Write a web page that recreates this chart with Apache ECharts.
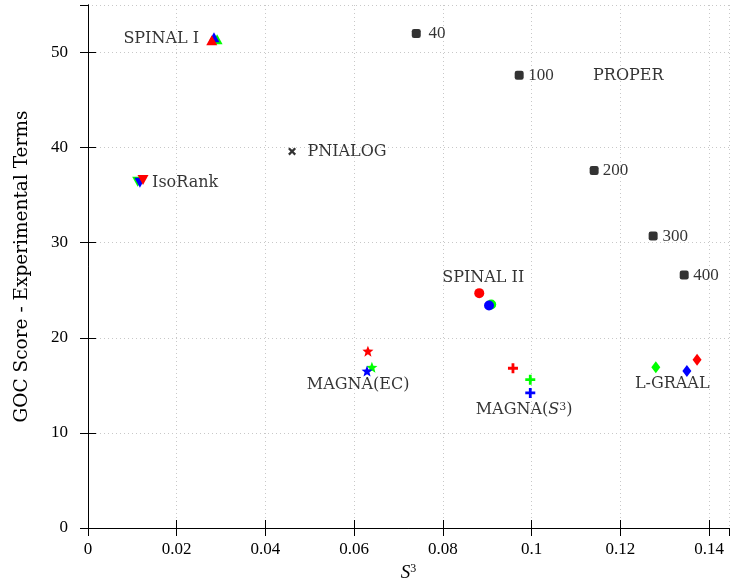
<!DOCTYPE html>
<html><head><meta charset="utf-8">
<script src="https://cdn.jsdelivr.net/npm/echarts@6/dist/echarts.min.js"></script>
<style>html,body{margin:0;padding:0;background:#fff}#c{width:731px;height:582px}</style>
</head><body><div id="c"></div>
<script>
// ---- data (x = S^3, y = GOC score), order: red, green, blue ----
const colors = ['#ff0000', '#00ff00', '#0000ff'];
const spinal1_x = [0.0279, 0.0291, 0.0284];
const spinal1_y = [51.3, 51.4, 51.6];
const isorank_x = [0.0124, 0.0112, 0.0117];
const isorank_y = [36.6, 36.4, 36.3];
const spinal2_x = [0.0882, 0.0909, 0.0904];
const spinal2_y = [24.7, 23.5, 23.4];
const magnaEC_x = [0.0631, 0.0640, 0.0629];
const magnaEC_y = [18.6, 16.9, 16.5];
const magnaS3_x = [0.0958, 0.0997, 0.0997];
const magnaS3_y = [16.8, 15.6, 14.2];
const lgraal_x = [0.1373, 0.1280, 0.1350];
const lgraal_y = [17.7, 16.9, 16.5];
const pnialog_x = [0.0460];
const pnialog_y = [39.6];
const proper_params = ['40', '100', '200', '300', '400'];
const proper_x = [0.0740, 0.0972, 0.1141, 0.1274, 0.1344];
const proper_y = [52.0, 47.6, 37.6, 30.7, 26.6];
// text annotations [x, y, text]
const label_text = ['SPINAL I', 'IsoRank', 'PNIALOG', 'PROPER', 'SPINAL II', 'MAGNA(EC)', 'MAGNA_S3', 'L-GRAAL'];
const label_x = [0.0165, 0.0219, 0.0584, 0.1218, 0.0891, 0.0609, 0.0983, 0.1317];
const label_y = [51.4, 36.3, 39.6, 47.5, 26.3, 15.05, 12.4, 15.2];
const param_label_x = [0.0787, 0.1021, 0.1189, 0.1324, 0.1393];
const param_label_y = [52.0, 47.6, 37.6, 30.6, 26.6];
const xTicks = [0, 0.02, 0.04, 0.06, 0.08, 0.1, 0.12, 0.14];
const yTicks = [0, 10, 20, 30, 40, 50];

const FONT = 'Liberation Serif';
const TFONT = 'DejaVu Serif';
const SYM_X = 'path://M2,0 L5,3 L8,0 L10,2 L7,5 L10,8 L8,10 L5,7 L2,10 L0,8 L3,5 L0,2 Z';
const SYM_PLUS = 'path://M3.6,0 H6.4 V3.6 H10 V6.4 H6.4 V10 H3.6 V6.4 H0 V3.6 H3.6 Z';
const SYM_STAR = 'path://M5,0 L6.3,3.3 L9.8,3.4 L7.1,5.6 L8.1,9.1 L5,7.1 L1.9,9.1 L2.9,5.6 L0.2,3.4 L3.7,3.3 Z';

const drawOrder = [1, 2, 0]; // green, blue, red (red on top)
const series = [];
function addMethod(xs, ys, symbol, size, rotate) {
  drawOrder.forEach(i => {
    series.push({
      type: 'scatter', symbol: symbol, symbolSize: size, symbolRotate: rotate || 0,
      itemStyle: { color: colors[i], opacity: 1 },
      data: [[xs[i], ys[i]]], z: 3
    });
  });
}
addMethod(spinal1_x, spinal1_y, 'triangle', [11, 10]);
addMethod(isorank_x, isorank_y, 'triangle', [11, 10], 180);
addMethod(spinal2_x, spinal2_y, 'circle', 10);
addMethod(magnaEC_x, magnaEC_y, SYM_STAR, 11);
addMethod(magnaS3_x, magnaS3_y, SYM_PLUS, 10);
addMethod(lgraal_x, lgraal_y, 'diamond', [9, 12]);
series.push({ type: 'scatter', symbol: SYM_X, symbolSize: 8, itemStyle: { color: '#000' },
  data: pnialog_x.map((x, i) => [x, pnialog_y[i]]) });
series.push({ type: 'scatter', symbol: 'roundRect', symbolSize: 9, itemStyle: { color: '#000' },
  data: proper_x.map((x, i) => [x, proper_y[i]]) });

const textStyle = { fontFamily: TFONT, fontSize: 16, color: '#000' };
series.push({
  type: 'scatter', symbolSize: 0, silent: true, z: 4,
  data: label_text.map((t, i) => [label_x[i], label_y[i], t]),
  label: {
    show: true, position: 'inside', ...textStyle,
    formatter: p => p.value[2] === 'MAGNA_S3' ? 'MAGNA({it|S}{sup|3})' : p.value[2],
    rich: {
      it: { fontFamily: TFONT, fontSize: 16, fontStyle: 'italic', color: '#000' },
      sup: { fontFamily: TFONT, fontSize: 11, color: '#000', verticalAlign: 'top', padding: [0, 0, 6, 0] }
    }
  }
});
series.push({
  type: 'scatter', symbolSize: 0, silent: true, z: 4,
  data: proper_params.map((t, i) => [param_label_x[i], param_label_y[i], t]),
  label: { show: true, position: 'inside', fontFamily: FONT, fontSize: 17, color: '#000', formatter: p => p.value[2] }
});

const gridLine = { show: true, lineStyle: { color: '#c8c8c8', type: [1, 3], width: 1 } };
const axisLineStyle = { show: true, lineStyle: { color: '#000', width: 1 } };
const tickStyle = { show: true, inside: true, length: 8, lineStyle: { color: '#000' } };
const tickLabel = { fontFamily: FONT, fontSize: 17, color: '#000' };

const option = {
  animation: false,
  backgroundColor: '#fff',
  grid: { left: 88, right: 2, top: 5, bottom: 54, containLabel: false, outerBoundsMode: 'none' },
  xAxis: [{
    type: 'value', min: 0, max: 0.1445, interval: 0.02,
    axisLine: axisLineStyle, axisTick: tickStyle, splitLine: gridLine,
    axisLabel: { ...tickLabel, margin: 13, showMaxLabel: false,
      formatter: v => xTicks.find(t => Math.abs(t - v) < 1e-9) !== undefined ? String(+v.toFixed(2)) : '' },
    name: '{it|S}{sup|3}', nameLocation: 'middle', nameGap: 34,
    nameTextStyle: { rich: {
      it: { fontFamily: FONT, fontSize: 19, fontStyle: 'italic', color: '#000' },
      sup: { fontFamily: FONT, fontSize: 12, color: '#000', verticalAlign: 'top', padding: [0, 0, 8, 0] }
    } }
  }, {
    type: 'value', position: 'top', min: 0, max: 0.1445, interval: 0.02,
    axisLine: axisLineStyle, axisTick: tickStyle, splitLine: { show: false }, axisLabel: { show: false }
  }],
  yAxis: [{
    type: 'value', min: 0, max: 55, interval: 10,
    axisLine: axisLineStyle, axisTick: tickStyle, splitLine: gridLine,
    axisLabel: { ...tickLabel, margin: 20, showMaxLabel: false,
      formatter: v => yTicks.indexOf(v) >= 0 ? String(v) : '' },
    name: 'GOC Score - Experimental Terms', nameLocation: 'middle', nameGap: 56, nameRotate: 90,
    nameTextStyle: { ...textStyle, fontSize: 18.5 }
  }, {
    type: 'value', position: 'right', min: 0, max: 55, interval: 10,
    axisLine: axisLineStyle, axisTick: tickStyle, splitLine: { show: false }, axisLabel: { show: false }
  }],
  series: series
};
echarts.init(document.getElementById('c'), null, { renderer: 'canvas' }).setOption(option);
</script>
</body></html>
